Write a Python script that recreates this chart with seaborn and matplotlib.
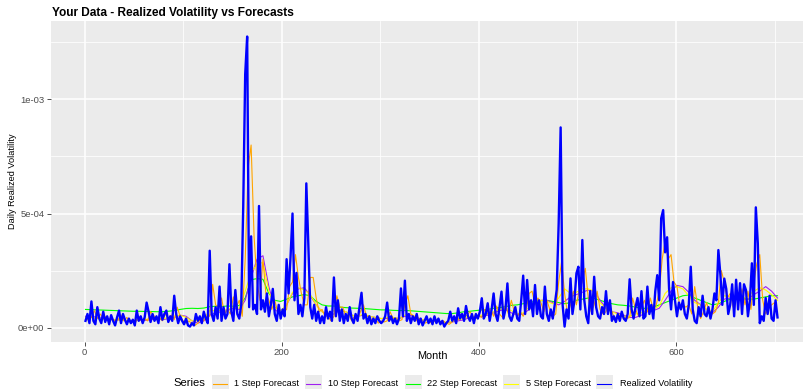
import numpy as np
import pandas as pd
import matplotlib
matplotlib.use("Agg")
import matplotlib.pyplot as plt
import seaborn as sns
from matplotlib.patches import Rectangle
from matplotlib.lines import Line2D

# ---- data (values in units of 1e-4) ----
months_rv = np.arange(1, 704, 2)     # realized volatility
months_fc1 = np.arange(1, 704, 3)    # 1-step forecast
months_fcn = np.arange(1, 704, 6)    # multi-step forecasts

realized = [
    0.3, 0.6, 0.2, 1.15, 0.3, 0.15, 0.9, 0.4, 0.2, 0.7,
    0.25, 0.5, 0.15, 0.55, 0.3, 0.1, 0.45, 0.75, 0.2, 0.6,
    0.35, 0.15, 0.4, 0.2, 0.35, 0.1, 0.75, 0.3, 0.5, 0.2,
    0.45, 1.1, 0.7, 0.25, 0.6, 0.3, 0.5, 0.2, 0.9, 0.35,
    0.6, 0.75, 0.25, 0.5, 0.3, 1.4, 0.6, 0.2, 0.5, 0.3,
    0.15, 0.4, 0.1, 0.05, 0.2, 0.1, 0.6, 0.3, 0.5, 0.2,
    0.7, 0.4, 0.2, 3.37, 0.6, 0.3, 0.9, 0.4, 1.8, 0.3,
    0.9, 0.4, 0.6, 2.78, 0.7, 0.3, 1.65, 0.6, 0.4, 1.0,
    5.3, 11.1, 12.75, 0.9, 4.0, 0.8, 1.0, 0.6, 5.33, 0.8,
    1.2, 0.7, 1.5, 0.5, 1.0, 1.7, 0.6, 0.3, 1.0, 0.4,
    0.8, 0.5, 3.0, 1.5, 3.1, 5.0, 1.2, 2.4, 0.6, 1.0,
    0.5, 1.3, 6.32, 3.7, 0.9, 0.4, 1.0, 0.3, 0.7, 0.2,
    0.5, 0.2, 0.9, 0.4, 0.7, 0.3, 2.2, 0.5, 1.2, 0.3,
    0.8, 0.2, 0.6, 0.3, 0.9, 0.4, 0.2, 0.6, 0.3, 0.9,
    1.53, 0.4, 0.6, 0.2, 0.5, 0.15, 0.4, 0.2, 0.5, 0.3,
    0.2, 0.3, 0.5, 1.1, 0.3, 0.5, 0.2, 0.4, 0.15, 0.4,
    1.72, 0.5, 2.06, 0.3, 0.6, 0.2, 0.5, 0.3, 0.6, 0.15,
    0.4, 0.1, 0.3, 0.5, 0.2, 0.4, 0.15, 0.5, 0.2, 0.4,
    0.15, 0.3, 0.05, 0.2, 0.3, 0.7, 0.3, 0.5, 0.2, 0.85,
    0.4, 0.6, 0.3, 0.95, 0.5, 0.3, 0.6, 0.2, 0.6, 0.4,
    0.7, 1.29, 0.4, 0.6, 1.07, 0.3, 0.8, 1.5, 0.6, 0.3,
    0.9, 1.58, 0.4, 0.8, 1.94, 0.5, 0.3, 0.6, 0.9, 0.4,
    0.3, 1.2, 2.28, 0.6, 2.09, 0.8, 1.2, 0.5, 1.87, 0.6,
    1.2, 0.5, 0.4, 1.8, 0.6, 0.3, 0.8, 0.4, 1.0, 1.66,
    4.57, 8.77, 1.0, 0.05, 0.8, 0.4, 2.16, 0.6, 1.2, 2.38,
    2.67, 0.8, 3.84, 1.2, 0.5, 0.2, 1.6, 0.6, 2.23, 0.9,
    0.5, 0.4, 0.9, 0.6, 1.6, 0.6, 1.2, 0.3, 0.5, 0.25,
    0.6, 0.3, 0.7, 0.4, 0.3, 0.6, 2.12, 0.8, 0.4, 0.9,
    1.3, 0.5, 1.6, 0.4, 0.5, 1.8, 0.6, 1.0, 0.4, 1.6,
    2.3, 1.2, 4.79, 5.15, 3.3, 3.96, 1.7, 0.8, 2.0, 1.2,
    0.5, 1.1, 0.8, 1.2, 0.6, 0.4, 1.0, 2.67, 0.8, 0.3,
    0.2, 0.9, 0.5, 1.4, 0.6, 0.5, 0.9, 0.4, 0.8, 1.5,
    1.2, 3.4, 2.35, 1.0, 2.15, 1.7, 0.6, 1.0, 1.9, 0.5,
    2.1, 0.8, 1.95, 0.6, 1.9, 1.65, 0.5, 1.2, 2.82, 1.0,
    5.27, 3.7, 0.2, 0.5, 0.3, 1.3, 0.6, 1.4, 0.4, 0.3,
    1.2, 0.45,
]

step1 = [
    0.35, 0.35, 0.45, 0.75, 0.4, 0.6, 0.4, 0.5, 0.3, 0.4, 0.3, 0.35, 0.55, 0.3, 0.45, 0.25,
    0.3, 0.25, 0.5, 0.3, 0.4, 0.3, 0.7, 0.55, 0.35, 0.45, 0.3, 0.6, 0.4, 0.55, 0.35, 0.9, 0.5, 0.3,
    0.2, 0.3, 0.15, 0.1, 0.2, 0.4, 0.3, 0.5,
    0.5, 1.9, 1.0, 0.9, 1.3, 0.6, 0.8, 0.6, 1.35, 0.9, 1.2, 0.5,
    3.0, 7.0, 8.0, 4.0, 2.0, 1.2, 3.0, 1.5, 1.2, 0.8, 1.2, 0.7, 0.5, 0.7,
    0.8, 1.8, 2.0, 3.2, 2.2, 1.5, 1.0, 1.0, 2.2, 2.2, 1.3, 0.7, 0.8, 0.5, 0.5, 0.3, 0.5,
    1.4, 0.9, 0.9, 0.5, 0.6, 0.3, 0.5, 0.4, 0.7, 1.0, 0.5, 0.5, 0.3, 0.4, 0.2, 0.3, 0.25,
    0.3, 0.7, 0.4, 0.4, 0.3, 0.35, 1.0, 1.4, 0.6, 0.5, 0.3, 0.4, 0.3, 0.2, 0.3, 0.2,
    0.3, 0.35, 0.25, 0.3, 0.2, 0.15, 0.25, 0.45, 0.35, 0.6, 0.45, 0.55, 0.7, 0.5, 0.4, 0.5,
    0.45, 0.8, 0.6, 0.8, 0.5, 0.95, 0.6, 0.45, 1.0, 0.6, 1.2, 0.7, 0.5, 0.7, 0.5, 0.8,
    1.5, 1.6, 1.0, 1.3, 1.1, 0.7, 1.2, 0.8, 0.5, 0.6, 2.0, 2.9, 1.5, 0.6,
    1.0, 1.6, 1.0, 1.7, 2.0, 2.6, 1.3, 0.7, 1.0, 1.6, 0.8, 0.6, 0.7, 1.1, 0.7, 0.4,
    0.45, 0.55, 0.45, 0.4, 0.45, 1.3, 0.8, 0.5, 0.9, 1.2, 0.7, 1.3, 0.8, 1.0, 1.6, 3.0,
    3.8, 3.0, 3.2, 2.0, 1.8, 0.9, 1.0, 0.9, 1.0, 0.6, 1.8, 0.9, 0.4, 0.7, 1.1, 0.7,
    0.6, 0.7, 1.1, 2.5, 2.0, 1.3, 1.5, 0.9, 1.5, 1.2, 1.7, 1.0, 1.6, 0.8, 2.0, 2.8,
    3.2, 1.2, 0.6, 0.9, 1.0, 1.1, 0.6,
]

step5 = [
    0.45, 0.45, 0.40, 0.38, 0.35, 0.35, 0.33, 0.32, 0.30, 0.35, 0.35,
    0.40, 0.40, 0.38, 0.45, 0.50, 0.55, 0.45, 0.30, 0.30,
    0.40, 0.75, 0.75, 0.75, 0.80, 0.90, 0.85, 1.60,
    2.40, 2.80, 2.85, 1.60, 0.90, 0.75, 1.00,
    1.55, 1.75, 1.65, 1.45, 1.00, 0.70, 0.55, 0.75, 0.80,
    0.70, 0.55, 0.50, 0.60, 0.50, 0.45, 0.40, 0.45, 0.45, 0.40, 0.55, 0.60, 0.45, 0.35, 0.30, 0.28,
    0.25, 0.22, 0.28, 0.35, 0.40, 0.50, 0.50, 0.55, 0.60, 0.70,
    0.80, 0.85, 0.75, 0.60, 0.65, 0.90, 1.15, 1.20, 1.15, 1.05,
    1.30, 1.70, 1.50, 1.55, 1.70, 1.70, 1.60, 1.10, 0.85,
    0.70, 0.60, 0.50, 0.50, 0.60, 0.65, 0.75, 0.80, 0.95,
    1.50, 1.75, 1.80, 1.70, 1.40, 1.10, 1.00, 0.80, 0.70,
    1.10, 1.40, 1.35, 1.30, 1.25, 1.40, 1.60, 1.75, 1.65, 1.45, 1.20,
]

step10 = [
    0.50, 0.50, 0.45, 0.40, 0.38, 0.35, 0.33, 0.30, 0.30, 0.33, 0.32,
    0.35, 0.38, 0.35, 0.40, 0.45, 0.55, 0.50, 0.30, 0.20,
    0.30, 0.55, 0.65, 0.70, 0.75, 0.85, 0.80, 1.20,
    2.20, 3.00, 3.15, 1.80, 0.80, 0.60, 1.00,
    1.50, 1.70, 1.75, 1.40, 1.00, 0.70, 0.55, 0.60, 0.75,
    0.70, 0.55, 0.50, 0.55, 0.50, 0.45, 0.40, 0.40, 0.45, 0.40, 0.50, 0.55, 0.45, 0.35, 0.30, 0.28,
    0.25, 0.22, 0.25, 0.30, 0.35, 0.45, 0.50, 0.50, 0.55, 0.65,
    0.75, 0.80, 0.65, 0.55, 0.60, 0.80, 1.05, 1.20, 1.20, 1.10,
    1.00, 1.15, 1.35, 1.45, 1.55, 1.65, 1.60, 1.20, 0.85,
    0.70, 0.65, 0.55, 0.45, 0.45, 0.55, 0.70, 0.75, 0.85,
    1.20, 1.60, 1.85, 1.80, 1.55, 1.20, 1.00, 0.80, 0.65,
    0.90, 1.25, 1.30, 1.25, 1.20, 1.25, 1.45, 1.60, 1.80, 1.60, 1.30,
]

step22 = [
    0.80, 0.79, 0.78, 0.77, 0.76, 0.75, 0.74, 0.73, 0.72, 0.72, 0.71,
    0.71, 0.70, 0.70, 0.72, 0.75, 0.80, 0.84, 0.85, 0.84,
    0.86, 0.92, 0.94, 0.93, 0.95, 0.94, 0.97, 1.30,
    2.10, 2.15, 2.12, 1.50, 1.20, 1.15, 1.25,
    1.35, 1.40, 1.45, 1.40, 1.15, 1.00, 0.95, 0.95, 0.90,
    0.88, 0.86, 0.85, 0.84, 0.82, 0.80, 0.78, 0.78, 0.76, 0.75, 0.76, 0.74, 0.72, 0.70, 0.68, 0.66,
    0.64, 0.62, 0.62, 0.65, 0.70, 0.72, 0.75, 0.78, 0.80, 0.85,
    0.88, 0.92, 0.98, 1.00, 1.05, 1.10, 1.15, 1.18, 1.20, 1.15,
    1.10, 1.05, 1.10, 1.20, 1.25, 1.30, 1.28, 1.20, 1.12,
    1.05, 1.00, 0.98, 0.95, 0.90, 0.85, 0.85, 0.90, 1.00,
    1.10, 1.20, 1.30, 1.40, 1.43, 1.30, 1.20, 1.10, 1.00,
    1.05, 1.15, 1.25, 1.30, 1.28, 1.25, 1.25, 1.30, 1.35, 1.40, 1.40,
]

series_names = ["1 Step Forecast", "10 Step Forecast", "22 Step Forecast",
                "5 Step Forecast", "Realized Volatility"]
series_colors = ["#FFA500", "#A020F0", "#00FF00", "#FFFF00", "#0000FF"]

UNIT = 1e-4
frames = [
    pd.DataFrame({"Month": months_fcn, "Value": np.array(step22) * UNIT, "Series": "22 Step Forecast"}),
    pd.DataFrame({"Month": months_fcn, "Value": np.array(step10) * UNIT, "Series": "10 Step Forecast"}),
    pd.DataFrame({"Month": months_fcn, "Value": np.array(step5) * UNIT, "Series": "5 Step Forecast"}),
    pd.DataFrame({"Month": months_fc1, "Value": np.array(step1) * UNIT, "Series": "1 Step Forecast"}),
    pd.DataFrame({"Month": months_rv, "Value": np.array(realized) * UNIT, "Series": "Realized Volatility"}),
]
palette = dict(zip(series_names, series_colors))

# ---- figure ----
W, H = 804, 389
fig = plt.figure(figsize=(W / 100, H / 100), dpi=100)
fig.patch.set_facecolor("white")
FONT = "Liberation Sans"

def fx(px):
    return px / W

def fy(py):
    return 1 - py / H

ax = fig.add_axes([fx(51), fy(341.7), fx(813) - fx(51), fy(21) - fy(341.7)])
ax.set_facecolor("#EBEBEB")

for df in frames:
    name = df["Series"].iloc[0]
    is_rv = name == "Realized Volatility"
    sns.lineplot(data=df, x="Month", y="Value", ax=ax, color=palette[name],
                 linewidth=1.7 if is_rv else 0.8, legend=False,
                 zorder=3 if is_rv else 2)

ax.set_xlim(-34, 739)
ax.set_ylim(-0.613e-4, 13.43e-4)

ax.set_xticks([0, 200, 400, 600])
ax.set_xticks([100, 300, 500, 700], minor=True)
ax.set_yticks([0, 5e-4, 1e-3])
ax.set_yticklabels(["0e+00", "5e-04", "1e-03"])
ax.set_yticks([2.5e-4, 7.5e-4, 12.5e-4], minor=True)

ax.grid(which="major", color="white", linewidth=1.1)
ax.grid(which="minor", color="white", linewidth=0.55)
ax.set_axisbelow(True)
for s in ax.spines.values():
    s.set_visible(False)

ax.tick_params(axis="both", which="major", length=2.8, width=0.6, color="#333333",
               labelsize=6.8, labelcolor="#4D4D4D", pad=2.0)
ax.tick_params(axis="both", which="minor", length=0)
for lab in ax.get_xticklabels() + ax.get_yticklabels():
    lab.set_family(FONT)

ax.set_xlabel("")
ax.set_ylabel("")

fig.text(fx(52), fy(13), "Your Data - Realized Volatility vs Forecasts", family=FONT,
         fontsize=8.6, fontweight="bold", ha="left", va="center", color="black")
fig.text(fx(13), fy(181), "Daily Realized Volatility", family=FONT, fontsize=6.6,
         rotation=90, ha="center", va="center", color="black")
fig.text(fx(432), fy(356), "Month", family=FONT, fontsize=7.8, ha="center",
         va="center", color="black")

# ---- legend ----
ly = 383.5
fig.text(fx(173), fy(ly), "Series", family=FONT, fontsize=8.1, ha="left",
         va="center", color="black")
key_x = [212, 305, 405, 503, 596]
text_x = [234, 328, 427, 526, 620]
for name, color, kx, tx in zip(series_names, series_colors, key_x, text_x):
    fig.patches.append(Rectangle((fx(kx), fy(ly + 8.5)), fx(17), 17 / H,
                                 transform=fig.transFigure, facecolor="#EBEBEB",
                                 edgecolor="none"))
    fig.lines.append(Line2D([fx(kx + 1.5), fx(kx + 15.5)], [fy(ly), fy(ly)],
                            transform=fig.transFigure, color=color, linewidth=0.8))
    fig.text(fx(tx), fy(ly), name, family=FONT, fontsize=6.6, ha="left",
             va="center", color="black")

fig.savefig("out.png", dpi=100)
